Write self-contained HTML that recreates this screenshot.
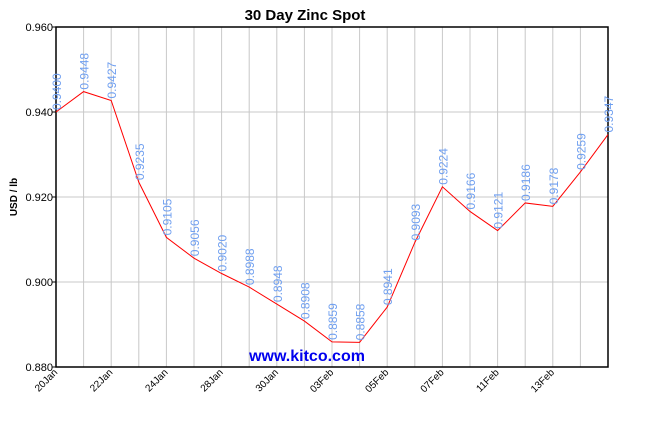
<!DOCTYPE html>
<html><head><meta charset="utf-8"><style>
body{margin:0;background:#fff;width:648px;height:417px;overflow:hidden}
text{font-family:"Liberation Sans",Arial,sans-serif}
</style></head><body>
<svg id="c" width="648" height="417">
<text x="305" y="20" font-size="15" font-weight="bold" text-anchor="middle">30 Day Zinc Spot</text>
<text transform="translate(17,197) rotate(-90)" font-size="10" font-weight="bold" text-anchor="middle">USD / lb</text>
<g id="grid"></g><g id="marks"></g>
<text x="307" y="361" font-size="16" font-weight="bold" fill="#0000ee" text-anchor="middle">www.kitco.com</text>
</svg>
<script>
const values=[0.9400,0.9448,0.9427,0.9235,0.9105,0.9056,0.9020,0.8988,0.8948,0.8908,0.8859,0.8858,0.8941,0.9093,0.9224,0.9166,0.9121,0.9186,0.9178,0.9259,0.9347];
const labels=["0.9400","0.9448","0.9427","0.9235","0.9105","0.9056","0.9020","0.8988","0.8948","0.8908","0.8859","0.8858","0.8941","0.9093","0.9224","0.9166","0.9121","0.9186","0.9178","0.9259","0.9347"];
const dates=["20Jan","","22Jan","","24Jan","","28Jan","","30Jan","","03Feb","","05Feb","","07Feb","","11Feb","","13Feb","",""];
const yTicks=[0.880,0.900,0.920,0.940,0.960];
const L=56,R=608,T=27,B=367,ns="http://www.w3.org/2000/svg";
const x=i=>L+(R-L)*i/(values.length-1);
const y=v=>B-(v-0.88)/(0.96-0.88)*(B-T);
function mk(t,a,p){const e=document.createElementNS(ns,t);for(const k in a)e.setAttribute(k,a[k]);p.appendChild(e);return e;}
const g=document.getElementById('grid'),m=document.getElementById('marks');
values.forEach((v,i)=>{if(i>0&&i<values.length-1){const l=mk('line',{x1:x(i),x2:x(i),y1:T,y2:B,stroke:'#c8c8c8'},g);

}
if(dates[i]){const t=mk('text',{transform:`translate(${x(i)+2},${B+6}) rotate(-45)`,'font-size':10,'text-anchor':'end'},g);t.textContent=dates[i];

}});
yTicks.forEach(v=>{if(v>0.88&&v<0.96){const l=mk('line',{x1:L,x2:R,y1:y(v),y2:y(v),stroke:'#c8c8c8'},g);

}
mk('line',{x1:L-4,x2:L,y1:y(v),y2:y(v),stroke:'#000'},g);
const t=mk('text',{x:L-3,y:y(v)+4,'font-size':11,'text-anchor':'end'},g);t.textContent=v.toFixed(3);

});
const f=mk('rect',{x:L,y:T,width:R-L,height:B-T,fill:'none',stroke:'#000','stroke-width':1.5},g);


const pl=mk('polyline',{points:values.map((v,i)=>x(i)+','+y(v)).join(' '),fill:'none',stroke:'#ff0000','stroke-width':1},m);


values.forEach((v,i)=>{const t=mk('text',{transform:`translate(${x(i)+5},${y(v)-2}) rotate(-90)`,'font-size':12,fill:'#6f9ff0'},m);t.textContent=labels[i];

});
</script>
</body></html>
